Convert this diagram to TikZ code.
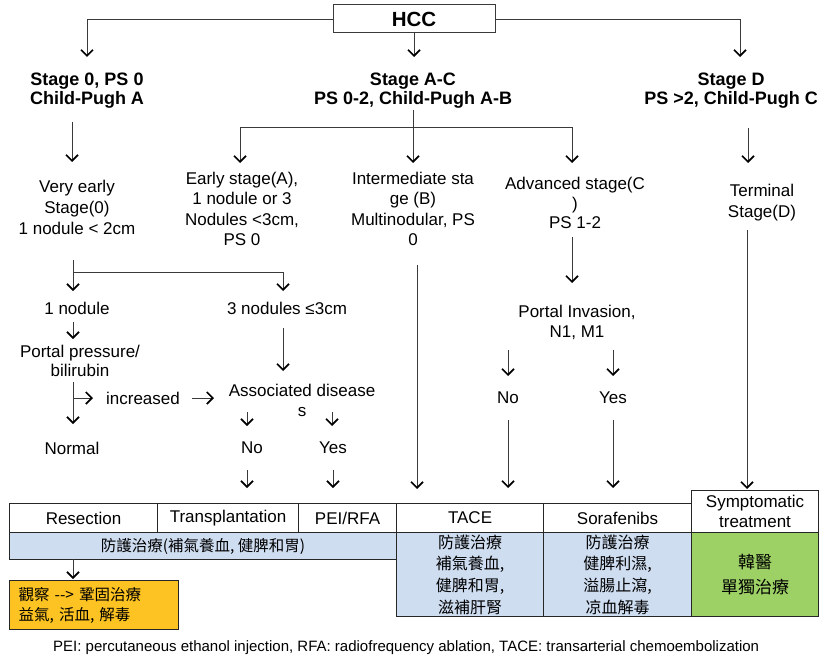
\documentclass[tikz,border=0pt]{standalone}
\usepackage{fontspec}
\setmainfont{Liberation Sans}
\newfontfamily\cjk{Noto Sans CJK TC}
\usetikzlibrary{arrows.meta}
\definecolor{lncol}{HTML}{3A3A3A}
\definecolor{bluecell}{HTML}{CFDDF1}
\definecolor{greencell}{HTML}{9DD065}
\definecolor{yellowcell}{HTML}{FDC322}
\tikzset{
  ln/.style={draw=lncol, line width=0.9pt},
  arr/.style={ln, -{Straight Barb[length=6pt,width=12pt,line width=1.7pt,color=black]}},
  txt/.style={align=center, inner sep=0pt, font=\fontsize{17}{21}\selectfont},
  hd/.style={align=center, inner sep=0pt, font=\fontsize{18}{19}\selectfont\bfseries},
  cell/.style={draw=black!85, line width=1.1pt, inner sep=0pt, anchor=north west, align=center, font=\fontsize{17}{20}\selectfont},
  cjkcell/.style={cell, font=\cjk\fontsize{16}{21.7}\selectfont}
}
\begin{document}
\begin{tikzpicture}[x=1pt,y=-1pt]
\useasboundingbox (0,0) rectangle (819,658);

% ---- top ----
\node[draw=lncol, line width=1pt, minimum width=162pt, minimum height=28pt, inner sep=0pt,
      font=\fontsize{20.5}{22}\selectfont\bfseries] (hcc) at (414,19) {HCC};
\coordinate (t0) at (87,57);
\coordinate (tac) at (414,57);
\coordinate (td) at (740,57);
\draw[arr] (hcc.west) -| (t0);
\draw[arr] (hcc.east) -| (td);
\draw[arr] (hcc.south) -- (tac);

\node[hd] (s0) at (87,91) {Stage 0, PS 0\\Child-Pugh A};
\node[hd] (sac) at (413,91) {Stage A-C\\PS 0-2, Child-Pugh A-B};
\node[hd] (sd) at (731,91) {Stage D\\PS >2, Child-Pugh C};

% ---- second level arrows ----
\coordinate (a0) at (72,122); \coordinate (a1) at (72,162);
\draw[arr] (a0) -- (a1);
\coordinate (b0) at (413,110); \coordinate (b1) at (413,127);
\coordinate (el) at (240,163); \coordinate (em) at (413,163); \coordinate (er) at (572,163);
\draw[arr] (b0) -- (b1) -| (el);
\draw[arr] (b1) -| (er);
\draw[arr] (b1) -- (em);
\coordinate (d0) at (748,128); \coordinate (d1) at (748,163);
\draw[arr] (d0) -- (d1);

\node[txt] (ve) at (77,207) {Very early\\Stage(0)\\1 nodule {<} 2cm};
\node[txt, font=\fontsize{17}{20.6}\selectfont] (es) at (242,209) {Early stage(A),\\ 1 nodule or 3\\Nodules {<}3cm,\\PS 0};
\node[txt, font=\fontsize{17}{20.6}\selectfont] (im) at (413,209) {Intermediate sta\\ge (B)\\Multinodular, PS\\0};
\node[txt, font=\fontsize{17}{19.5}\selectfont] (adv) at (575,203) {Advanced stage(C\\)\\PS 1-2};
\node[txt] (term) at (762,202.5) {Terminal\\Stage(D)};

% ---- very early branch ----
\coordinate (v0) at (73,260); \coordinate (v1) at (73,272);
\coordinate (n1e) at (73,291); \coordinate (n3e) at (283,291);
\draw[arr] (v0) -- (n1e);
\draw[arr] (v1) -| (n3e);

\node[txt] (nod1) at (77,308) {1 nodule};
\node[txt] (nod3) at (287,308) {3 nodules ≤3cm};

\coordinate (p0) at (73,322); \coordinate (p1) at (73,339);
\draw[arr] (p0) -- (p1);
\node[txt, font=\fontsize{17}{19}\selectfont] (pp) at (80,361) {Portal pressure/\\bilirubin};

\coordinate (q0) at (73,382); \coordinate (q1) at (73,424);
\coordinate (qb) at (73,398); \coordinate (qi) at (93,398);
\draw[arr] (q0) -- (q1);
\draw[arr] (qb) -- (qi);
\node[txt] (inc) at (143,398) {increased};
\coordinate (r0) at (192,398); \coordinate (r1) at (214,398);
\draw[arr] (r0) -- (r1);

\node[txt, font=\fontsize{17}{20}\selectfont] (ad) at (302,400) {Associated disease\\s};
\coordinate (c0) at (283,328); \coordinate (c1) at (283,371);
\draw[arr] (c0) -- (c1);

\coordinate (e0) at (247,412); \coordinate (e1) at (247,426);
\coordinate (f0) at (332,412); \coordinate (f1) at (332,426);
\draw[arr] (e0) -- (e1);
\draw[arr] (f0) -- (f1);

\node[txt] (normal) at (72,448) {Normal};
\node[txt] (no1) at (252,448) {No};
\node[txt] (yes1) at (333,448) {Yes};

\coordinate (g0) at (247,470); \coordinate (g1) at (247,488);
\coordinate (h0) at (333,470); \coordinate (h1) at (333,488);
\draw[arr] (g0) -- (g1);
\draw[arr] (h0) -- (h1);

% ---- intermediate / advanced / terminal ----
\coordinate (i0) at (417,265); \coordinate (i1) at (417,489);
\draw[arr] (i0) -- (i1);
\coordinate (k0) at (572,237); \coordinate (k1) at (572,283);
\draw[arr] (k0) -- (k1);
\node[txt, font=\fontsize{17}{20}\selectfont] (pi) at (577,322) {Portal Invasion,\\N1, M1};
\coordinate (m0) at (508,350); \coordinate (m1) at (508,376);
\coordinate (o0) at (613,350); \coordinate (o1) at (613,376);
\draw[arr] (m0) -- (m1);
\draw[arr] (o0) -- (o1);
\node[txt] (no2) at (508,398) {No};
\node[txt] (yes2) at (613,398) {Yes};
\coordinate (m2) at (508,420); \coordinate (m3) at (508,488);
\coordinate (o2) at (613,420); \coordinate (o3) at (613,488);
\draw[arr] (m2) -- (m3);
\draw[arr] (o2) -- (o3);
\coordinate (w0) at (747,230); \coordinate (w1) at (747,489);
\draw[arr] (w0) -- (w1);

% ---- table ----
\node[cell, minimum width=148pt, minimum height=29pt] (res) at (9,503) {Resection};
\node[cell, minimum width=141pt, minimum height=29pt] (tra) at (157,503) {Transplantation};
\node[cell, minimum width=98pt, minimum height=29pt] (pei) at (298,503) {PEI/RFA};
\node[cell, minimum width=147pt, minimum height=29pt] (tace) at (396,503) {TACE};
\node[cell, minimum width=148pt, minimum height=29pt] (sora) at (543,503) {Sorafenibs};
\node[cell, minimum width=127pt, minimum height=42pt, font=\fontsize{17}{20}\selectfont] (sym) at (691,490) {Symptomatic\\treatment};

\node[cjkcell, fill=bluecell, minimum width=387pt, minimum height=27pt, font=\cjk\fontsize{15.5}{18}\selectfont] (blueL) at (9,532) {防護治療(補氣養血, 健脾和胃)};
\node[cjkcell, fill=bluecell, minimum width=147pt, minimum height=84pt] (taceB) at (396,532) {防護治療\\補氣養血,\\健脾和胃,\\滋補肝腎};
\node[cjkcell, fill=bluecell, minimum width=148pt, minimum height=84pt] (soraB) at (543,532) {防護治療\\健脾利濕,\\溢腸止瀉,\\凉血解毒};
\node[cjkcell, fill=greencell, minimum width=127pt, minimum height=84pt, font=\cjk\fontsize{17}{25}\selectfont] (green) at (691,532) {韓醫\\單獨治療};

\coordinate (y0) at (73,559); \coordinate (y1) at (73,579);
\draw[arr] (y0) -- (y1);
\node[cjkcell, fill=yellowcell, minimum width=169pt, minimum height=49pt, inner xsep=9pt,
      text width=151pt, align=left, font=\cjk\fontsize{15.5}{20}\selectfont] (yel) at (9,580)
      {觀察 -{}-{}> 鞏固治療\\益氣, 活血, 解毒};

\node[anchor=west, inner sep=0pt, font=\fontsize{15}{17}\selectfont] (foot) at (53,648)
  {PEI: percutaneous ethanol injection, RFA: radiofrequency ablation, TACE: transarterial chemoembolization};
\end{tikzpicture}
\end{document}
